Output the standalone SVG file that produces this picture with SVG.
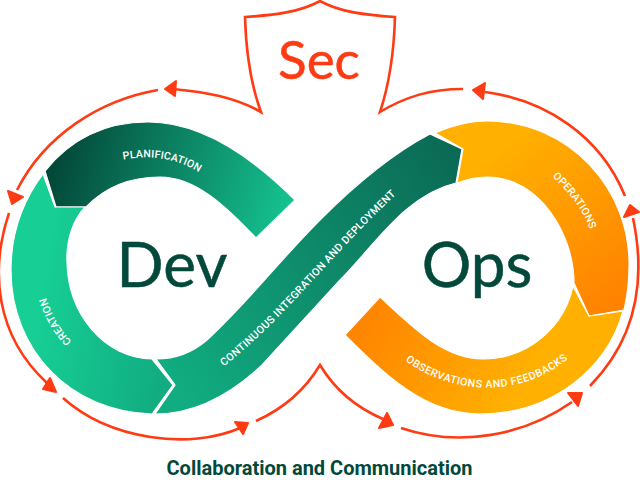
<svg xmlns="http://www.w3.org/2000/svg" width="640" height="480" viewBox="0 0 640 480">
<style>
.r{fill:none;stroke:#ff3b14;stroke-width:2.6}
.h{fill:#ff3b14;stroke:#ff3b14;stroke-width:2;stroke-linejoin:round}
.b{stroke:#fff;stroke-width:1.2}
.l{font-family:Roboto,"Liberation Sans",sans-serif;font-weight:500;font-size:10.6px;fill:#fff;letter-spacing:.35px;text-anchor:middle}
.t{font-family:Lato,"Open Sans",sans-serif;font-size:62px;fill:#02493b;stroke:#02493b;stroke-width:.5;text-anchor:middle}
</style>
<defs>
<linearGradient id="gp" gradientUnits="userSpaceOnUse" x1="60" y1="150" x2="285" y2="215"><stop offset="0" stop-color="#03493a"/><stop offset="1" stop-color="#15c18f"/></linearGradient>
<linearGradient id="gc" gradientUnits="userSpaceOnUse" x1="40" y1="280" x2="170" y2="300"><stop offset="0" stop-color="#17cf95"/><stop offset="1" stop-color="#11ad81"/></linearGradient>
<linearGradient id="gi" gradientUnits="userSpaceOnUse" x1="165" y1="380" x2="460" y2="160"><stop offset="0" stop-color="#11ad81"/><stop offset="1" stop-color="#0b6a55"/></linearGradient>
<linearGradient id="go" gradientUnits="userSpaceOnUse" x1="500" y1="150" x2="625" y2="310"><stop offset="0" stop-color="#ffb000"/><stop offset="1" stop-color="#ff8000"/></linearGradient>
<linearGradient id="gb" gradientUnits="userSpaceOnUse" x1="365" y1="315" x2="510" y2="400"><stop offset="0" stop-color="#ff8500"/><stop offset="1" stop-color="#ffb000"/></linearGradient>
<path id="pp" d="M118 157C150 150 180 155 205 172"/>
<path id="pc" d="M79 352C62 340 46 316 39 286"/>
<path id="pi" d="M216 368C280 320 330 250 399 187"/>
<path id="po" d="M550 170C573 190 589 212 595 234"/>
<path id="pb" d="M402 354C450 392 520 397 571 352"/>
</defs>
<g id="connectors">
<path class="r" d="M158 90C100 100 45 135 17 190"/>
<path class="h" d="M8 191L23 197L12 204Z"/>
<path class="r" d="M9 213C-10 270 -5 335 47 383"/>
<path class="h" d="M50 378L56 392L43 389Z"/>
<path class="r" d="M63 398C110 440 190 450 240 428"/>
<path class="h" d="M235 422L248 423L243 434Z"/>
<path class="r" d="M256 421C285 408 305 390 320 365C335 390 355 407 383 419"/>
<path class="h" d="M387 413L393 425L379 428Z"/>
<path class="r" d="M401 428C460 448 525 435 572 402"/>
<path class="h" d="M568 393L582 393L578 406Z"/>
<path class="r" d="M590 386C640 335 645 275 633 218"/>
<path class="h" d="M630 205L624 217L639 212Z"/>
<path class="r" d="M625 196C600 135 545 100 485 92"/>
<path class="h" d="M473 90L485 83L483 99Z"/>
<path class="r" d="M463 89C430 89 405 97 380 112C389 85 394 50 395 17C365 15 340 12 320 1C300 12 275 15 245 17C246 50 251 85 261 112C235 97 205 92 173 89"/>
<path class="h" d="M165 89L176 81L175 96Z"/>
</g>
<g id="planification">
<path class="b" fill="url(#gp)" d="M45 171C70 140 105 122 148 122C200 122 250 155 295 200L256 238C225 205 195 177 160 177C130 177 105 187 86 207L56 207Z"/>
<text class="l" dy="3.5"><textPath href="#pp" startOffset="50%">PLANIFICATION</textPath></text>
</g>
<g id="creation">
<path class="b" fill="url(#gc)" d="M43 174L55 207L85 207C73 220 66 240 67 262C68 315 105 358 152 359L173 385L152 414C70 412 11 350 11 270C11 235 22 202 43 174Z"/>
<text class="l" dy="3.5"><textPath href="#pc" startOffset="50%">CREATION</textPath></text>
</g>
<g id="ci">
<path class="b" fill="url(#gi)" d="M156 359C175 359 192 353 207 340C250 300 280 260 320 220C355 185 390 155 430 134L462 149L456 183C405 195 375 245 340 280L262 365C230 395 195 414 155 414L175 385Z"/>
<text class="l" dy="3.5"><textPath href="#pi" startOffset="50%">CONTINUOUS INTEGRATION AND DEPLOYMENT</textPath></text>
</g>
<g id="operations">
<path class="b" fill="url(#go)" d="M435 133C453 125 470 121 487 121C570 121 631 190 629 267C629 282 627 297 624 310L589 316L574 283C574 235 540 177 487 177C477 177 467 179 457 183L463 149Z"/>
<text class="l" dy="3.5"><textPath href="#po" startOffset="50%">OPERATIONS</textPath></text>
</g>
<g id="observations">
<path class="b" fill="url(#gb)" d="M345 335L380 297C415 330 445 359 483 359C530 359 565 325 573 286L589 316L623 311C607 370 550 414 480 414C425 414 385 375 345 335Z"/>
<text class="l" dy="3.5"><textPath href="#pb" startOffset="50%">OBSERVATIONS AND FEEDBACKS</textPath></text>
</g>
<g id="labels">
<text class="t" x="172" y="287">Dev</text>
<text class="t" x="477" y="287">Ops</text>
<text x="319" y="79" font-family="Lato,'Open Sans',sans-serif" font-size="53" fill="#ff3b14" stroke="#ff3b14" stroke-width=".5" text-anchor="middle">Sec</text>
<text x="319.500" y="475" font-family="Roboto,'Liberation Sans',sans-serif" font-weight="700" font-size="20" fill="#02493b" text-anchor="middle">Collaboration and Communication</text>
</g>
</svg>
